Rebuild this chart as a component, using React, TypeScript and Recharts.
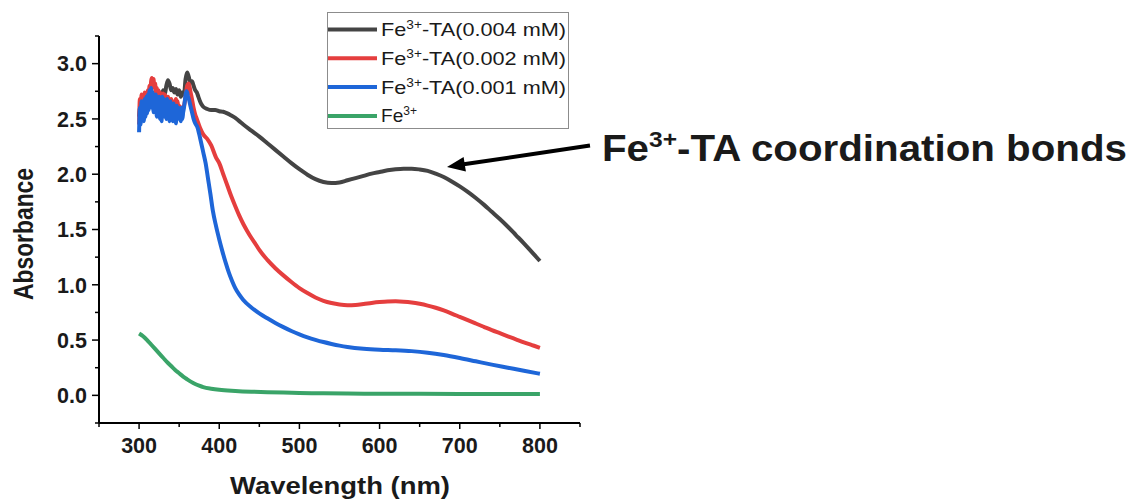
import React from 'react';
import { LineChart, Line, XAxis, YAxis, Legend, Customized } from 'recharts';

// ---- Data (wavelength nm, absorbance) ----
const FE_TA_0004: [number, number][] = [
  [300, 2.52], [302, 2.62], [304, 2.58], [306, 2.66], [308, 2.6], [310, 2.68], [312, 2.63], [314, 2.72],
  [316, 2.66], [318, 2.74], [320, 2.68], [322, 2.72], [324, 2.66], [326, 2.74], [328, 2.7], [330, 2.76],
  [332, 2.72], [334, 2.8], [336, 2.85], [338, 2.82], [340, 2.76], [342, 2.78], [344, 2.74], [346, 2.77],
  [348, 2.72], [350, 2.76], [352, 2.7], [354, 2.74], [356, 2.72], [358, 2.86], [360, 2.92], [362, 2.88],
  [364, 2.83], [366, 2.84], [368, 2.8], [370, 2.76], [372, 2.74], [374, 2.7], [376, 2.66], [378, 2.63],
  [380, 2.61], [385, 2.59], [390, 2.58], [395, 2.58], [400, 2.57], [405, 2.565], [410, 2.55], [415, 2.53],
  [420, 2.51], [425, 2.48], [430, 2.45], [440, 2.395], [450, 2.34], [460, 2.28], [470, 2.22], [480, 2.16],
  [490, 2.1], [500, 2.045], [510, 1.995], [520, 1.955], [530, 1.93], [540, 1.92], [550, 1.925], [560, 1.945],
  [570, 1.965], [580, 1.985], [590, 2.005], [600, 2.02], [610, 2.035], [620, 2.045], [630, 2.05], [640, 2.05],
  [650, 2.043], [660, 2.03], [670, 2.005], [680, 1.975], [690, 1.935], [700, 1.89], [710, 1.84], [720, 1.785],
  [730, 1.725], [740, 1.66], [750, 1.595], [760, 1.525], [770, 1.45], [780, 1.375], [790, 1.295], [800, 1.215],
];

const FE_TA_0002: [number, number][] = [
  [300, 2.45], [301, 2.68], [302, 2.55], [303, 2.72], [304, 2.6], [305, 2.7], [306, 2.62], [307, 2.74],
  [308, 2.66], [309, 2.72], [310, 2.64], [311, 2.76], [312, 2.7], [313, 2.8], [314, 2.74], [315, 2.84],
  [316, 2.87], [317, 2.82], [318, 2.86], [319, 2.78], [320, 2.82], [321, 2.74], [322, 2.78], [323, 2.7],
  [324, 2.76], [325, 2.68], [326, 2.74], [327, 2.66], [328, 2.72], [329, 2.67], [330, 2.73], [331, 2.66],
  [332, 2.72], [333, 2.64], [334, 2.7], [335, 2.63], [336, 2.7], [337, 2.62], [338, 2.68], [339, 2.6],
  [340, 2.68], [341, 2.6], [342, 2.66], [343, 2.58], [344, 2.66], [345, 2.6], [346, 2.68], [347, 2.58],
  [348, 2.66], [349, 2.6], [350, 2.62], [352, 2.58], [354, 2.6], [356, 2.62], [358, 2.7], [360, 2.8],
  [362, 2.82], [364, 2.75], [366, 2.68], [368, 2.6], [370, 2.54], [372, 2.5], [376, 2.42], [380, 2.36],
  [385, 2.32], [390, 2.26], [396, 2.15], [400, 2.1], [405, 2.0], [410, 1.9], [415, 1.8], [420, 1.71],
  [425, 1.625], [430, 1.55], [435, 1.485], [440, 1.425], [446, 1.36], [450, 1.315], [460, 1.225], [470, 1.15],
  [480, 1.085], [490, 1.025], [500, 0.97], [510, 0.925], [520, 0.885], [530, 0.855], [540, 0.835], [550, 0.822],
  [560, 0.816], [570, 0.818], [580, 0.826], [590, 0.836], [600, 0.844], [610, 0.849], [620, 0.85], [630, 0.847],
  [640, 0.84], [650, 0.828], [660, 0.812], [670, 0.792], [680, 0.768], [690, 0.74], [700, 0.71], [710, 0.68],
  [720, 0.65], [730, 0.62], [740, 0.59], [750, 0.562], [760, 0.534], [770, 0.507], [780, 0.48], [790, 0.455],
  [800, 0.43],
];

const FE_TA_0001: [number, number][] = [
  [300, 2.38], [301, 2.6], [302, 2.45], [303, 2.66], [304, 2.5], [305, 2.62], [306, 2.48], [307, 2.68],
  [308, 2.52], [309, 2.7], [310, 2.55], [311, 2.72], [312, 2.58], [313, 2.76], [314, 2.62], [315, 2.78],
  [316, 2.6], [317, 2.74], [318, 2.56], [319, 2.7], [320, 2.58], [321, 2.72], [322, 2.52], [323, 2.68],
  [324, 2.55], [325, 2.7], [326, 2.5], [327, 2.66], [328, 2.48], [329, 2.7], [330, 2.55], [331, 2.68],
  [332, 2.52], [333, 2.66], [334, 2.5], [335, 2.68], [336, 2.54], [337, 2.64], [338, 2.48], [339, 2.66],
  [340, 2.52], [341, 2.62], [342, 2.48], [343, 2.64], [344, 2.5], [345, 2.6], [346, 2.46], [347, 2.62],
  [348, 2.5], [349, 2.6], [350, 2.52], [351, 2.58], [352, 2.48], [353, 2.6], [354, 2.5], [355, 2.56],
  [356, 2.6], [357, 2.66], [358, 2.72], [359, 2.75], [360, 2.74], [361, 2.7], [362, 2.68], [364, 2.62],
  [366, 2.56], [368, 2.5], [370, 2.46], [373, 2.42], [376, 2.33], [380, 2.2], [383, 2.1], [386, 1.96],
  [389, 1.82], [392, 1.67], [396, 1.53], [400, 1.41], [404, 1.3], [408, 1.2], [412, 1.11], [416, 1.035],
  [420, 0.97], [425, 0.91], [430, 0.862], [440, 0.795], [450, 0.742], [460, 0.697], [470, 0.655], [480, 0.617],
  [490, 0.582], [500, 0.552], [510, 0.525], [520, 0.502], [530, 0.482], [540, 0.465], [550, 0.45], [560, 0.438],
  [580, 0.422], [600, 0.413], [620, 0.408], [640, 0.4], [660, 0.386], [680, 0.365], [700, 0.338], [720, 0.308],
  [740, 0.278], [760, 0.25], [780, 0.222], [800, 0.195],
];

const FE_ONLY: [number, number][] = [
  [300, 0.56], [305, 0.535], [310, 0.5], [315, 0.46], [320, 0.42], [325, 0.38], [330, 0.34], [335, 0.3],
  [340, 0.265], [345, 0.23], [350, 0.2], [355, 0.17], [360, 0.145], [365, 0.122], [370, 0.103], [375, 0.088],
  [380, 0.075], [390, 0.06], [400, 0.05], [420, 0.04], [440, 0.033], [460, 0.028], [480, 0.025], [500, 0.022],
  [530, 0.018], [560, 0.016], [600, 0.015], [650, 0.014], [700, 0.013], [750, 0.012], [800, 0.012],
];

const X_TICKS = [250, 300, 350, 400, 450, 500, 550, 600, 650, 700, 750, 800, 850];
const X_LABELED = [300, 400, 500, 600, 700, 800];
const Y_TICKS = [-0.25, 0, 0.25, 0.5, 0.75, 1, 1.25, 1.5, 1.75, 2, 2.25, 2.5, 2.75, 3, 3.25];
const Y_LABELED = [0, 0.5, 1, 1.5, 2, 2.5, 3];

const SERIES_NAMES = ['Fe3+-TA(0.004 mM)', 'Fe3+-TA(0.002 mM)', 'Fe3+-TA(0.001 mM)', 'Fe3+'];
const SERIES_SUFFIX = ['-TA(0.004 mM)', '-TA(0.002 mM)', '-TA(0.001 mM)', ''];
const SERIES_COLORS = ['#444444', '#e53e3e', '#1e66d8', '#3aa468'];
const SERIES_DATA = [FE_TA_0004, FE_TA_0002, FE_TA_0001, FE_ONLY];

const FONT = '"Liberation Sans", Arial, Helvetica, sans-serif';
const TXT = '#1a1a1a';

const toPoints = (arr: [number, number][]) => arr.map(([w, v]) => ({ w, v }));

const XTick = (props: any) => {
  const { x, y, payload } = props;
  const v = payload.value;
  const major = X_LABELED.includes(v);
  return (
    <g>
      <line x1={x} x2={x} y1={y} y2={y + (major ? 6 : 4)} stroke="#000" strokeWidth={1.5} />
      {major && (
        <text x={x} y={y + 30} textAnchor="middle" fontSize={21.5} fontWeight="bold" fontFamily={FONT} fill={TXT}>
          {v}
        </text>
      )}
    </g>
  );
};

const YTick = (props: any) => {
  const { x, y, payload } = props;
  const v = payload.value;
  const major = Y_LABELED.some((m) => Math.abs(m - v) < 1e-6);
  return (
    <g>
      <line x1={x - (major ? 7 : 4)} x2={x} y1={y} y2={y} stroke="#000" strokeWidth={1.5} />
      {major && (
        <text x={x - 12} y={y} dy="0.36em" textAnchor="end" fontSize={21.5} fontWeight="bold" fontFamily={FONT} fill={TXT}>
          {v.toFixed(1)}
        </text>
      )}
    </g>
  );
};

const LegendBox = () => (
  <svg width={243} height={118} style={{ display: 'block', overflow: 'visible' }}>
    <rect x={0.5} y={0.5} width={241} height={116} fill="#fff" stroke="#8c8c8c" strokeWidth={1} />
    {SERIES_NAMES.map((name, i) => {
      const y = 17.5 + i * 28.8;
      const hasSuffix = SERIES_SUFFIX[i] !== '';
      return (
        <g key={name}>
          <line x1={1} x2={50} y1={y} y2={y} stroke={SERIES_COLORS[i]} strokeWidth={4} />
          <text
            x={54}
            y={y + 6.5}
            fontSize={19}
            fontFamily={FONT}
            fill={TXT}
            textLength={hasSuffix ? 185 : 36}
            lengthAdjust="spacingAndGlyphs"
          >
            Fe
            <tspan dy={-7} fontSize={12}>3+</tspan>
            {hasSuffix && <tspan dy={7}>{SERIES_SUFFIX[i]}</tspan>}
          </text>
        </g>
      );
    })}
  </svg>
);

const Annotation = () => (
  <g>
    <line x1={590} y1={145.5} x2={462} y2={164.6} stroke="#000" strokeWidth={4} />
    <polygon points="447,167 463.6,157 465.9,171.6" fill="#000" />
    <text
      x={602}
      y={161}
      fontSize={36}
      fontWeight="bold"
      fontFamily={FONT}
      fill={TXT}
      textLength={525}
      lengthAdjust="spacingAndGlyphs"
    >
      Fe
      <tspan dy={-14} fontSize={22}>3+</tspan>
      <tspan dy={14}>-TA coordination bonds</tspan>
    </text>
  </g>
);

export default function App() {
  return (
    <div style={{ position: 'absolute', left: 0, top: 0, width: 1132, height: 502, background: '#fff' }}>
      <LineChart width={1132} height={502} margin={{ top: 36, right: 552, bottom: 49, left: 39 }}>
        <XAxis
          type="number"
          dataKey="w"
          domain={[250, 850]}
          ticks={X_TICKS}
          interval={0}
          tickSize={0}
          tickMargin={0}
          tickLine={false}
          height={30}
          axisLine={{ stroke: '#000', strokeWidth: 2 }}
          tick={<XTick />}
          label={{
            content: () => (
              <text
                x={340}
                y={494}
                textAnchor="middle"
                fontSize={24}
                fontWeight="bold"
                fontFamily={FONT}
                fill={TXT}
                textLength={220}
                lengthAdjust="spacingAndGlyphs"
              >
                Wavelength (nm)
              </text>
            ),
          }}
        />
        <YAxis
          type="number"
          domain={[-0.25, 3.25]}
          ticks={Y_TICKS}
          interval={0}
          tickSize={0}
          tickMargin={0}
          tickLine={false}
          width={60}
          axisLine={{ stroke: '#000', strokeWidth: 2 }}
          tick={<YTick />}
          label={{
            content: () => (
              <text
                transform="translate(33,234) scale(1.15,1) rotate(-90)"
                textAnchor="middle"
                fontSize={23.5}
                fontWeight="bold"
                fontFamily={FONT}
                fill={TXT}
                textLength={132}
                lengthAdjust="spacingAndGlyphs"
              >
                Absorbance
              </text>
            ),
          }}
        />
        {SERIES_NAMES.map((name, i) => (
          <Line
            key={name}
            name={name}
            data={toPoints(SERIES_DATA[i])}
            dataKey="v"
            type="monotone"
            stroke={SERIES_COLORS[i]}
            strokeWidth={4}
            strokeLinejoin="round"
            dot={false}
            activeDot={false}
            isAnimationActive={false}
          />
        ))}
        <Legend
          layout="vertical"
          align="center"
          verticalAlign="middle"
          wrapperStyle={{ left: 327, top: 12, width: 243, height: 118 }}
          content={() => <LegendBox />}
        />
        <Customized component={Annotation} />
      </LineChart>
    </div>
  );
}
